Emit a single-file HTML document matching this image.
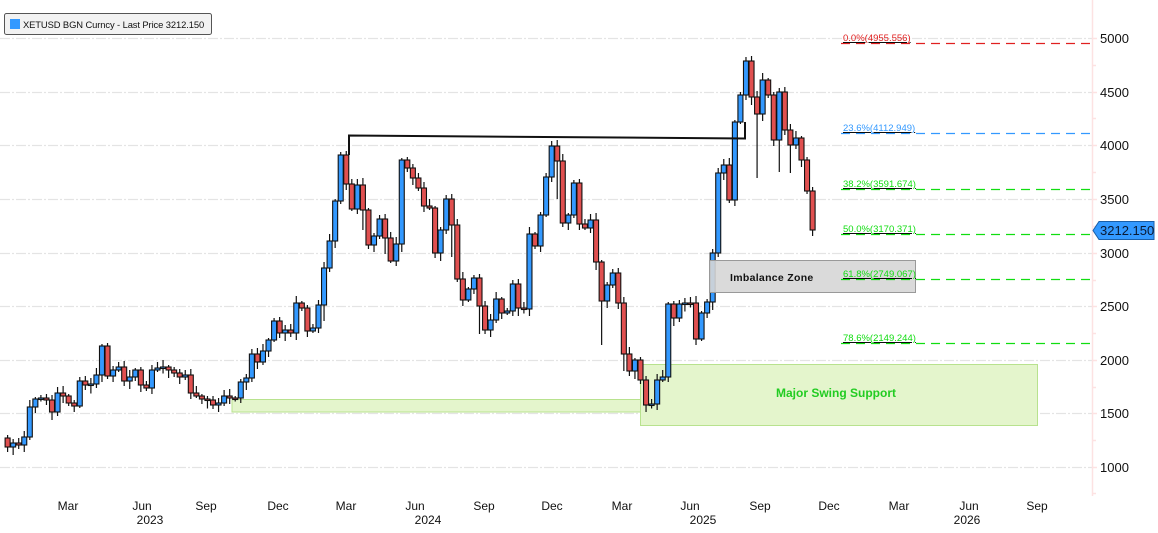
<!DOCTYPE html>
<html><head><meta charset="utf-8"><style>
body{margin:0;background:#fff;}
svg{display:block;font-family:"Liberation Sans","DejaVu Sans",sans-serif;}
</style></head><body>
<svg id="s" width="1158" height="533" viewBox="0 0 1158 533" xmlns="http://www.w3.org/2000/svg">
<g stroke="#e4e4e4" stroke-width="1.3" stroke-dasharray="10,2,2,2">
<line x1="0" y1="38.5" x2="1092" y2="38.5"/><line x1="0" y1="92.5" x2="1092" y2="92.5"/>
<line x1="0" y1="145.5" x2="1092" y2="145.5"/><line x1="0" y1="199.5" x2="1092" y2="199.5"/>
<line x1="0" y1="253.5" x2="1092" y2="253.5"/><line x1="0" y1="306.5" x2="1092" y2="306.5"/>
<line x1="0" y1="360.5" x2="1092" y2="360.5"/><line x1="0" y1="413.5" x2="1092" y2="413.5"/>
<line x1="0" y1="467.5" x2="1092" y2="467.5"/>
</g>
<line x1="1092.5" y1="0" x2="1092.5" y2="496" stroke="#fde2e2" stroke-width="1.5"/>
<g stroke="#fde2e2" stroke-width="1.5">
<line x1="1092" y1="38.5" x2="1097" y2="38.5"/><line x1="1092" y1="65.5" x2="1096" y2="65.5"/>
<line x1="1092" y1="92.5" x2="1097" y2="92.5"/><line x1="1092" y1="118.5" x2="1096" y2="118.5"/>
<line x1="1092" y1="145.5" x2="1097" y2="145.5"/><line x1="1092" y1="172.5" x2="1096" y2="172.5"/>
<line x1="1092" y1="199.5" x2="1097" y2="199.5"/><line x1="1092" y1="226.5" x2="1096" y2="226.5"/>
<line x1="1092" y1="253.5" x2="1097" y2="253.5"/><line x1="1092" y1="280.5" x2="1096" y2="280.5"/>
<line x1="1092" y1="306.5" x2="1097" y2="306.5"/><line x1="1092" y1="333.5" x2="1096" y2="333.5"/>
<line x1="1092" y1="360.5" x2="1097" y2="360.5"/><line x1="1092" y1="387.5" x2="1096" y2="387.5"/>
<line x1="1092" y1="413.5" x2="1097" y2="413.5"/><line x1="1092" y1="440.5" x2="1096" y2="440.5"/>
<line x1="1092" y1="467.5" x2="1097" y2="467.5"/><line x1="1092" y1="493.5" x2="1096" y2="493.5"/>
</g>
<g font-size="13" fill="#111">
<text x="1100" y="43">5000</text><text x="1100" y="97">4500</text><text x="1100" y="150">4000</text>
<text x="1100" y="204">3500</text><text x="1100" y="258">3000</text><text x="1100" y="311">2500</text>
<text x="1100" y="365">2000</text><text x="1100" y="418">1500</text><text x="1100" y="472">1000</text>
</g>
<rect x="232" y="399.5" width="423" height="12.5" fill="#e4f5cc" stroke="#b8e28e" stroke-width="1"/>
<rect x="640.5" y="364.5" width="397" height="61" fill="#e4f5cc" stroke="#b8e28e" stroke-width="1"/>
<text x="836" y="397" font-size="12" font-weight="bold" fill="#22cc22" text-anchor="middle">Major Swing Support</text>
<g id="c"></g>
<rect x="709.5" y="260.5" width="206" height="32" fill="#d6d6d6" fill-opacity="0.9" stroke="#999" stroke-width="1"/>
<text x="730" y="281" font-size="10.5" font-weight="bold" fill="#111" letter-spacing="0.3">Imbalance Zone</text>
<polyline points="349,155 349,135.5 745,138.5 745,122" fill="none" stroke="#111" stroke-width="2"/>
<g stroke-width="1.3" stroke-dasharray="9,6">
<line x1="841" y1="43.5" x2="1090" y2="43.5" stroke="#e02020"/>
<line x1="841" y1="133.5" x2="1090" y2="133.5" stroke="#3399ff"/>
<line x1="841" y1="189.5" x2="1090" y2="189.5" stroke="#11dd11"/>
<line x1="841" y1="234.5" x2="1090" y2="234.5" stroke="#11dd11"/>
<line x1="841" y1="279.5" x2="1090" y2="279.5" stroke="#11dd11"/>
<line x1="841" y1="343.5" x2="1090" y2="343.5" stroke="#11dd11"/>
</g>
<g font-size="9.5" text-decoration="underline">
<text x="843" y="41" fill="#e02020">0.0%(4955.556)</text>
<text x="843" y="131" fill="#3399ff">23.6%(4112.949)</text>
<text x="843" y="187" fill="#11dd11">38.2%(3591.674)</text>
<text x="843" y="232" fill="#11dd11">50.0%(3170.371)</text>
<text x="843" y="277" fill="#11dd11">61.8%(2749.067)</text>
<text x="843" y="341" fill="#11dd11">78.6%(2149.244)</text>
</g>
<polygon points="1093,230.5 1099,221.5 1154,221.5 1154,239.5 1099,239.5" fill="#3399ff" stroke="#1a5fa8" stroke-width="1"/>
<text x="1100" y="235" font-size="13" fill="#0a1a33">3212.150</text>
<g font-size="12" fill="#111" text-anchor="middle">
<text x="68" y="510">Mar</text><text x="142" y="510">Jun</text><text x="206" y="510">Sep</text>
<text x="278" y="510">Dec</text><text x="346" y="510">Mar</text><text x="415" y="510">Jun</text>
<text x="484" y="510">Sep</text><text x="552" y="510">Dec</text><text x="622" y="510">Mar</text>
<text x="690" y="510">Jun</text><text x="760" y="510">Sep</text><text x="829" y="510">Dec</text>
<text x="899" y="510">Mar</text><text x="969" y="510">Jun</text><text x="1037" y="510">Sep</text>
<text x="150" y="524">2023</text><text x="428" y="524">2024</text><text x="703" y="524">2025</text><text x="967" y="524">2026</text>
</g>
<rect x="4.5" y="13.5" width="207" height="21" rx="2" fill="#f2f2f2" stroke="#555" stroke-width="1"/>
<rect x="10" y="19" width="10" height="10" fill="#3399ff"/>
<text x="23" y="28" font-size="9.4" fill="#111" letter-spacing="-0.1">XETUSD BGN Curncy - Last Price 3212.150</text>
</svg>
<script>
var d=[438,447,443,445,437,407,399,398,400,412,393,396,403,406,381,385,384,375,346,376,370,367,381,377,370,385,388,370,368,367,370,373,377,375,393,396,399,400,405,403,396,398,398,382,378,354,362,351,340,321,333,330,333,303,308,331,328,305,268,241,201,155,184,209,185,210,245,236,219,238,261,244,160,168,178,188,206,208,253,230,199,225,279,300,289,278,306,330,320,299,313,311,284,308,309,234,246,215,177,146,161,223,215,183,224,228,220,262,301,285,273,303,354,371,360,380,405,404,380,377,304,318,304,303,303,339,313,302,253,173,165,200,122,95,61,97,114,80,95,140,92,130,145,138,160,191,230];
var g=document.getElementById('c'),h='',n=d.length-1,st=(810-5)/(n-1);
var big={58:8,65:12,69:10,81:25,86:20,100:30,108:40,112:15,136:60,140:30,142:20,148:10};
for(var i=1;i<=n;i++){var o=d[i-1],c=d[i],x=5+(i-1)*st;
var t=Math.min(o,c),b=Math.max(o,c);if(b-t<1.5){b=t+1.5;}
var hi=t-(2+(i*7)%6),lo=b+(2+(i*3)%7)+(big[i]||0);
var up=c<o,col=up?'#3399ff':'#e05050';
h+='<line x1="'+(x+2.6)+'" y1="'+hi+'" x2="'+(x+2.6)+'" y2="'+lo+'" stroke="#111" stroke-width="1.2"/>';
h+='<rect x="'+(x+0.1)+'" y="'+t+'" width="5" height="'+(b-t)+'" fill="'+col+'" stroke="#111" stroke-width="1.1"/>';}
g.innerHTML=h;
</script>
</body></html>
